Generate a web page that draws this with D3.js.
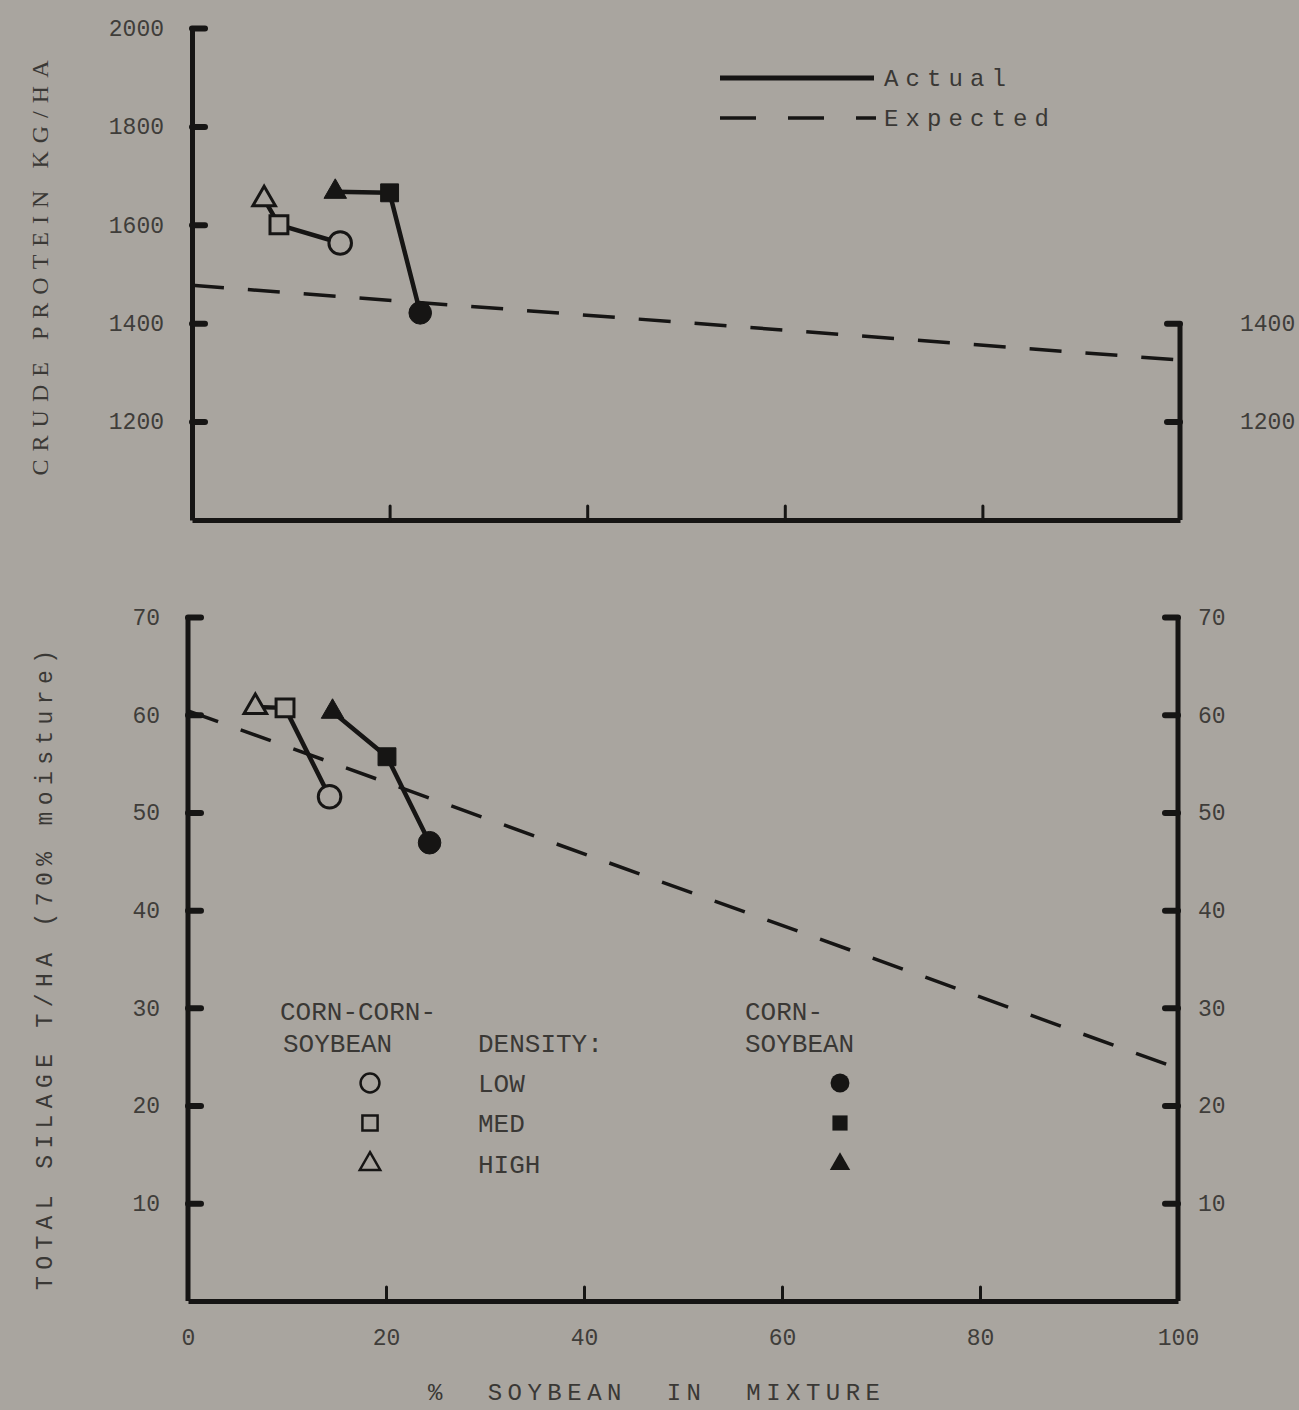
<!DOCTYPE html>
<html><head><meta charset="utf-8">
<script src="https://cdn.jsdelivr.net/npm/d3@7"></script>
<style>
body{margin:0;background:#a9a59f}
svg{display:block}
text{fill:#3a3835}
</style></head><body>
<svg id="c" width="1299" height="1410" font-family="Liberation Mono, DejaVu Sans Mono, monospace"></svg>
<script>
// ---- data ----
const xTicks = [0, 20, 40, 60, 80, 100];
const xInnerTicks = [20, 40, 60, 80];
const proteinTicks = [1200, 1400, 1600, 1800, 2000];
const proteinRightTicks = [1200, 1400];
const silageTicks = [10, 20, 30, 40, 50, 60, 70];
const densities = ["LOW", "MED", "HIGH"];
const markerShapes = ["circle", "square", "triangle"];

// corn-corn-soybean (open markers), order LOW, MED, HIGH
const ccsProteinPct = [15.0, 8.8, 7.3];
const ccsProtein = [1563, 1600, 1652];
const ccsSilagePct = [14.3, 9.8, 6.8];
const ccsSilage = [51.6, 60.7, 60.8];
// corn-soybean (filled markers), order LOW, MED, HIGH
const csProteinPct = [23.1, 20.0, 14.5];
const csProtein = [1421, 1665, 1667];
const csSilagePct = [24.4, 20.1, 14.6];
const csSilage = [46.9, 55.7, 60.3];
// expected
const expectedPct = [0, 100];
const expectedProtein = [1477, 1325];
const expectedSilage = [60.4, 23.8];

// ---- drawing ----
const ink = "#161514", bg = "#a9a59f";
const svg = d3.select("#c");

const xT = d3.scaleLinear([0, 100], [192, 1180]);
const yT = d3.scaleLinear([1000, 2000], [520, 28]);
const xB = d3.scaleLinear([0, 100], [188, 1178]);
const yB = d3.scaleLinear([0, 70], [1301, 617]);

function styleAxis(g, tickW) {
  g.select(".domain").attr("stroke", ink).attr("stroke-width", 5);
  g.selectAll(".tick line").attr("stroke", ink).attr("stroke-width", tickW).attr("stroke-linecap", "round");
  g.selectAll(".tick text").attr("font-size", 23).style("fill", "#3f3d3a")
    .attr("font-family", "Liberation Mono, monospace");
}

// top panel axes
svg.append("g").attr("transform", `translate(${xT(0)},0)`)
  .call(d3.axisLeft(yT).tickValues(proteinTicks).tickSize(-13).tickSizeOuter(0).tickPadding(28).tickFormat(d3.format("d")))
  .call(g => styleAxis(g, 6));
svg.append("g").attr("transform", `translate(0,${yT(1000)})`)
  .call(d3.axisBottom(xT).tickValues(xInnerTicks).tickSize(-14).tickSizeOuter(0).tickFormat(""))
  .call(g => styleAxis(g, 3));
const rT = svg.append("g").attr("transform", `translate(${xT(100)},0)`)
  .call(d3.axisRight(yT).tickValues(proteinRightTicks).tickSize(-13).tickSizeOuter(0).tickPadding(60).tickFormat(d3.format("d")))
  .call(g => styleAxis(g, 6));
rT.select(".domain").attr("d", `M0,${yT(1000)}V${yT(1400)}`);

// bottom panel axes
svg.append("g").attr("transform", `translate(${xB(0)},0)`)
  .call(d3.axisLeft(yB).tickValues(silageTicks).tickSize(-13).tickSizeOuter(0).tickPadding(28))
  .call(g => styleAxis(g, 6))
  .call(g => g.select(".domain").attr("d", `M0,${yB(0)}V${yB(70)}`));
svg.append("g").attr("transform", `translate(0,${yB(0)})`)
  .call(d3.axisBottom(xB).tickValues(xTicks).tickSize(-14).tickSizeOuter(0).tickPadding(28))
  .call(g => styleAxis(g, 3))
  .call(g => g.selectAll(".tick").filter(d => d === 0 || d === 100).select("line").remove());
svg.append("g").attr("transform", `translate(${xB(100)},0)`)
  .call(d3.axisRight(yB).tickValues(silageTicks).tickSize(-13).tickSizeOuter(0).tickPadding(20))
  .call(g => styleAxis(g, 6))
  .call(g => g.select(".domain").attr("d", `M0,${yB(0)}V${yB(70)}`));

// expected dashed lines
const dashes = "32,24";
svg.append("path").datum(expectedPct.map((p, i) => [xT(p), yT(expectedProtein[i])]))
  .attr("d", d3.line()).attr("fill", "none").attr("stroke", ink).attr("stroke-width", 3.5).attr("stroke-dasharray", dashes);
svg.append("path").datum(expectedPct.map((p, i) => [xB(p), yB(expectedSilage[i])]))
  .attr("d", d3.line()).attr("fill", "none").attr("stroke", ink).attr("stroke-width", 3.5).attr("stroke-dasharray", dashes);

const sym = {
  circle: d3.symbol(d3.symbolCircle, 400),
  square: d3.symbol(d3.symbolSquare, 320),
  triangle: d3.symbol(d3.symbolTriangle, 220)
};

function series(pcts, vals, xsc, ysc, filled) {
  const pts = pcts.map((p, i) => [xsc(p), ysc(vals[i])]);
  svg.append("path").datum(pts.slice().reverse()).attr("d", d3.line()).attr("fill", "none")
    .attr("stroke", ink).attr("stroke-width", 4.5).attr("stroke-linejoin", "round");
  pts.forEach((pt, i) => {
    svg.append("path").attr("d", sym[markerShapes[i]]())
      .attr("transform", `translate(${pt[0]},${pt[1]})`)
      .attr("fill", filled ? ink : bg).attr("stroke", ink).attr("stroke-width", filled ? 1 : 3);
  });
}
series(ccsProteinPct, ccsProtein, xT, yT, false);
series(csProteinPct, csProtein, xT, yT, true);
series(ccsSilagePct, ccsSilage, xB, yB, false);
series(csSilagePct, csSilage, xB, yB, true);

// top legend
svg.append("line").attr("x1", 720).attr("x2", 874).attr("y1", 78).attr("y2", 78).attr("stroke", ink).attr("stroke-width", 5);
svg.append("line").attr("x1", 720).attr("x2", 876).attr("y1", 118).attr("y2", 118).attr("stroke", ink).attr("stroke-width", 3.5).attr("stroke-dasharray", "36,32");
svg.append("text").attr("x", 884).attr("y", 86).attr("font-size", 24).attr("textLength", 122).attr("lengthAdjust", "spacing").text("Actual");
svg.append("text").attr("x", 884).attr("y", 126).attr("font-size", 24).attr("textLength", 165).attr("lengthAdjust", "spacing").text("Expected");

// axis titles
svg.append("text").attr("transform", "translate(48,268) rotate(-90)").attr("text-anchor", "middle")
  .attr("font-family", "Liberation Serif, serif").attr("font-size", 24).attr("textLength", 415).attr("lengthAdjust", "spacing")
  .text("CRUDE PROTEIN KG/HA");
svg.append("text").attr("transform", "translate(52,970) rotate(-90)").attr("text-anchor", "middle")
  .attr("font-size", 23).attr("textLength", 640).attr("lengthAdjust", "spacing")
  .text("TOTAL SILAGE T/HA (70% moisture)");
svg.append("text").attr("x", 654).attr("y", 1400).attr("text-anchor", "middle")
  .attr("font-size", 24).attr("textLength", 452).attr("lengthAdjust", "spacing").attr("xml:space", "preserve")
  .text("%  SOYBEAN  IN  MIXTURE");

// bottom legend
const lg = svg.append("g").attr("font-size", 26);
lg.append("text").attr("x", 280).attr("y", 1020).text("CORN-CORN-");
lg.append("text").attr("x", 283).attr("y", 1052).text("SOYBEAN");
lg.append("text").attr("x", 478).attr("y", 1052).text("DENSITY:");
lg.append("text").attr("x", 745).attr("y", 1020).text("CORN-");
lg.append("text").attr("x", 745).attr("y", 1052).text("SOYBEAN");
const rowsY = [1083, 1123, 1164];
const legSym = [d3.symbol(d3.symbolCircle, 280), d3.symbol(d3.symbolSquare, 230), d3.symbol(d3.symbolTriangle, 180)];
densities.forEach((d, i) => {
  lg.append("text").attr("x", 478).attr("y", rowsY[i] + 9).text(d);
  svg.append("path").attr("d", legSym[i]()).attr("transform", `translate(370,${rowsY[i]})`).attr("fill", "none").attr("stroke", ink).attr("stroke-width", 2.5);
  svg.append("path").attr("d", legSym[i]()).attr("transform", `translate(840,${rowsY[i]})`).attr("fill", ink);
});
</script>
</body></html>
